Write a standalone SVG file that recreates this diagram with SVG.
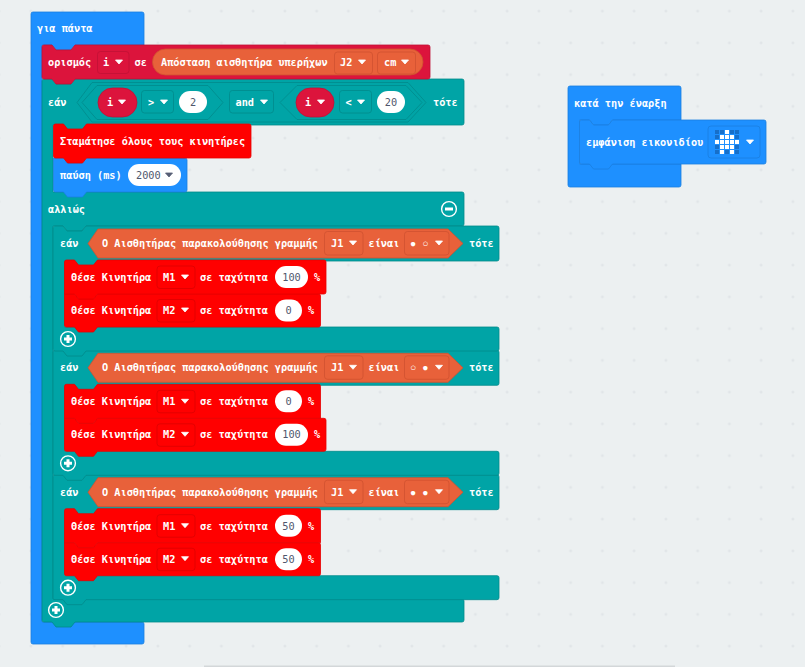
<svg xmlns="http://www.w3.org/2000/svg" xmlns:xlink="http://www.w3.org/1999/xlink" width="805" height="667" viewBox="0 0 805 667">
<style>
text{font-family:"DejaVu Sans Mono","Liberation Mono",monospace;font-size:10.25px;font-weight:700;fill:#fff}
.n{fill:#4f566c;font-weight:400;text-anchor:middle}
.sym{font-family:"Liberation Mono","DejaVu Sans Mono",monospace}
.blue{fill:#1e90ff;stroke:#1a7fe0;stroke-width:.8}
.teal{fill:#00a4a6;stroke:#008a8c;stroke-width:.8}
.crim{fill:#dc143c;stroke:#c01035;stroke-width:.8}
.red{fill:#ff0000;stroke:#e60000;stroke-width:.8}
.or{fill:#e8613a;stroke:#cf5230;stroke-width:.8}
.pill{fill:#fff}
.ddT{fill:#00a4a6;stroke:#008a8c;stroke-width:.8}
.ddC{fill:#dc143c;stroke:#c01035;stroke-width:.8}
.ddR{fill:#ff0000;stroke:#dc0000;stroke-width:.8}
.ddO{fill:#e8613a;stroke:#cf5230;stroke-width:.8}
.ddB{fill:#1e90ff;stroke:#1a7fe0;stroke-width:.8}
.car{fill:#fff;stroke:#fff;stroke-width:.8;stroke-linejoin:round}
.car2{fill:#575e75;stroke:#575e75;stroke-width:.8;stroke-linejoin:round}
.ring{fill:none;stroke:#fff;stroke-width:1.4}
.dot{fill:#fff}
.off{fill:#176fc9}
</style>
<defs>
<pattern id="grid" x="0" y="0" width="31.75" height="31.75" patternUnits="userSpaceOnUse" patternTransform="translate(142,27)">
<path d="M14.4,15.9h3M15.9,14.4v3" stroke="#dde2e5" stroke-width="1" fill="none"/>
</pattern>
<path id="c" d="M-3.500,-2h7l-3.500,4z"/>
<g id="plus"><circle r="7.400" class="ring"/><path d="M-4,0h8M0,-4v8" stroke="#fff" stroke-width="3"/></g>
<path id="ifFrame" d="M53,228q0-2 2-2H63l4,5h15l4-5H497q2,0 2,2V259q0,2-2,2H97.500l-4,5h-15l-4-5H64.500V327H497q2,0 2,2V349q0,2-2,2H86l-4,5H67l-4-5H55q-2,0-2-2z"/>
<path id="hex" d="M98,229H448L463,243.500 448,258H98L88,243.500z"/>
</defs>
<rect width="805" height="667" fill="#ecf0f1"/>
<rect width="805" height="667" fill="url(#grid)"/>
<rect x="204" y="665.500" width="471" height="1.500" fill="#d3d7d9"/>

<g id="forever">
<path class="blue" d="M31,14q0-2 2-2H142q2,0 2,2V45H75l-4,5H56l-4-5H42V622H142q2,0 2,2V642q0,2-2,2H33q-2,0-2-2z"/>
<text x="37" y="32">για πάντα</text>
</g>

<g id="if-else">
<path class="teal" d="M42,81q0-2 2-2H52l4,5h15l4-5H462q2,0 2,2V123q0,2-2,2H86.500l-4,5h-15l-4-5H53V192H462q2,0 2,2V224q0,2-2,2H86l-4,5H67l-4-5H53V599H462q2,0 2,2V620q0,2-2,2H75l-4,5H56l-4-5H44q-2,0-2-2z"/>
<text x="48" y="106">εάν</text>
<path d="M92,82.500H408L426,102.500 408,122H92L77,102.500z" fill="#00a4a6" stroke="#008a8c" stroke-width=".8"/>
<path d="M97,85.500H208L223,102.500 208,119.500H97L82,102.500z" fill="#00a4a6" stroke="#008a8c" stroke-width=".8"/>
<path d="M297,85.500H406L422,102.500 406,119.500H297L280,102.500z" fill="#00a4a6" stroke="#008a8c" stroke-width=".8"/>
<rect x="98" y="88" width="39" height="29" rx="14.500" class="crim"/>
<text x="107" y="106">i</text><use xlink:href="#c" class="car" x="122" y="102"/>
<rect x="141.500" y="90.500" width="32" height="22.500" rx="3" class="ddT"/>
<text x="148" y="106">&gt;</text><use xlink:href="#c" class="car" x="164" y="102"/>
<rect x="179" y="91" width="28" height="22" rx="11" class="pill"/>
<text x="193" y="106" class="n">2</text>
<rect x="229.500" y="90.500" width="44" height="22.500" rx="3" class="ddT"/>
<text x="235.500" y="106">and</text><use xlink:href="#c" class="car" x="264" y="102"/>
<rect x="296" y="88" width="38" height="29" rx="14.500" class="crim"/>
<text x="305" y="106">i</text><use xlink:href="#c" class="car" x="321" y="102"/>
<rect x="339.500" y="90.500" width="32" height="22.500" rx="3" class="ddT"/>
<text x="345.500" y="106">&lt;</text><use xlink:href="#c" class="car" x="361" y="102"/>
<rect x="377" y="91" width="28" height="22" rx="11" class="pill"/>
<text x="391" y="106" class="n">20</text>
<text x="433" y="106">τότε</text>
<text x="48" y="213">αλλιώς</text>
<g transform="translate(449,209)"><circle r="7.400" class="ring"/><path d="M-4,0h8" stroke="#fff" stroke-width="3"/></g>
<use xlink:href="#plus" x="56" y="610"/>
</g>

<g id="pause">
<path class="blue" d="M53.500,158H63.500l4,5h15l4-5H185q2,0 2,2V190q0,2-2,2H86.500l-4,5h-15l-4-5H55.500q-2,0-2-2z"/>
<text x="60" y="179">παύση (ms)</text>
<rect x="128" y="164" width="53" height="22" rx="11" class="pill"/>
<text x="136" y="179" style="fill:#4f566c;font-weight:400">2000</text><use xlink:href="#c" class="car2" x="169" y="175"/>
</g>
<g id="stop">
<path class="red" d="M53.500,126q0-2 2-2H63.500l4,5h15l4-5H249q2,0 2,2V156q0,2-2,2H86.500l-4,5h-15l-4-5H55.500q-2,0-2-2z"/>
<text x="60" y="145">Σταμάτησε όλους τους κινητήρες</text>
</g>

<g id="if3" transform="translate(0,248.700)">
<use xlink:href="#ifFrame" class="teal"/><use xlink:href="#hex" class="or"/>
<text x="60" y="247">εάν</text><text x="102" y="247">Ο Αισθητήρας παρακολούθησης γραμμής</text>
<rect x="324.500" y="231.500" width="38.500" height="23.500" rx="3" class="ddO"/><text x="331" y="247">J1</text><use xlink:href="#c" class="car" x="353" y="243"/>
<text x="368.500" y="247">είναι</text>
<rect x="404.500" y="231.500" width="44.500" height="23.500" rx="3" class="ddO"/><text x="410" y="247" class="sym">● ●</text><use xlink:href="#c" class="car" x="439" y="243"/>
<text x="469" y="247">τότε</text>
<use xlink:href="#plus" x="68" y="339"/>
</g>
<g id="motor3b" transform="translate(0,248.700)">
<path class="red" d="M64.500,294H74.500l4,5h15l4-5H318.500q2,0 2,2V325q0,2-2,2H97.500l-4,5h-15l-4-5H66.500q-2,0-2-2z"/>
<text x="71" y="314">Θέσε Κινητήρα</text><rect x="157" y="299.500" width="38" height="22.500" rx="3" class="ddR"/><text x="163" y="314">M2</text><use xlink:href="#c" class="car" x="185" y="310"/><text x="200" y="314">σε ταχύτητα</text>
<rect x="275" y="299.500" width="27" height="22" rx="11" class="pill"/><text x="288.500" y="314" class="n">50</text><text x="308" y="314">%</text>
</g>
<g id="motor3a" transform="translate(0,248.700)">
<path class="red" d="M64.500,262q0-2 2-2H74.500l4,5h15l4-5H318.500q2,0 2,2V294H97.500l-4,5h-15l-4-5H64.500z"/>
<text x="71" y="281">Θέσε Κινητήρα</text><rect x="157" y="266" width="38" height="22.500" rx="3" class="ddR"/><text x="163" y="281">M1</text><use xlink:href="#c" class="car" x="185" y="277"/><text x="200" y="281">σε ταχύτητα</text>
<rect x="275" y="266" width="27" height="22" rx="11" class="pill"/><text x="288.500" y="281" class="n">50</text><text x="308" y="281">%</text>
</g>

<g id="if2" transform="translate(0,124.300)">
<use xlink:href="#ifFrame" class="teal"/><use xlink:href="#hex" class="or"/>
<text x="60" y="247">εάν</text><text x="102" y="247">Ο Αισθητήρας παρακολούθησης γραμμής</text>
<rect x="324.500" y="231.500" width="38.500" height="23.500" rx="3" class="ddO"/><text x="331" y="247">J1</text><use xlink:href="#c" class="car" x="353" y="243"/>
<text x="368.500" y="247">είναι</text>
<rect x="404.500" y="231.500" width="44.500" height="23.500" rx="3" class="ddO"/><text x="410" y="247" class="sym">○ ●</text><use xlink:href="#c" class="car" x="439" y="243"/>
<text x="469" y="247">τότε</text>
<use xlink:href="#plus" x="68" y="339"/>
</g>
<g id="motor2b" transform="translate(0,124.300)">
<path class="red" d="M64.500,294H74.500l4,5h15l4-5H324q2,0 2,2V325q0,2-2,2H97.500l-4,5h-15l-4-5H66.500q-2,0-2-2z"/>
<text x="71" y="314">Θέσε Κινητήρα</text><rect x="157" y="299.500" width="38" height="22.500" rx="3" class="ddR"/><text x="163" y="314">M2</text><use xlink:href="#c" class="car" x="185" y="310"/><text x="200" y="314">σε ταχύτητα</text>
<rect x="275" y="299.500" width="33" height="22" rx="11" class="pill"/><text x="291.500" y="314" class="n">100</text><text x="314" y="314">%</text>
</g>
<g id="motor2a" transform="translate(0,124.300)">
<path class="red" d="M64.500,262q0-2 2-2H74.500l4,5h15l4-5H318.500q2,0 2,2V294H97.500l-4,5h-15l-4-5H64.500z"/>
<text x="71" y="281">Θέσε Κινητήρα</text><rect x="157" y="266" width="38" height="22.500" rx="3" class="ddR"/><text x="163" y="281">M1</text><use xlink:href="#c" class="car" x="185" y="277"/><text x="200" y="281">σε ταχύτητα</text>
<rect x="275" y="266" width="27" height="22" rx="11" class="pill"/><text x="288.500" y="281" class="n">0</text><text x="308" y="281">%</text>
</g>

<g id="if1">
<use xlink:href="#ifFrame" class="teal"/><use xlink:href="#hex" class="or"/>
<text x="60" y="247">εάν</text><text x="102" y="247">Ο Αισθητήρας παρακολούθησης γραμμής</text>
<rect x="324.500" y="231.500" width="38.500" height="23.500" rx="3" class="ddO"/><text x="331" y="247">J1</text><use xlink:href="#c" class="car" x="353" y="243"/>
<text x="368.500" y="247">είναι</text>
<rect x="404.500" y="231.500" width="44.500" height="23.500" rx="3" class="ddO"/><text x="410" y="247" class="sym">● ○</text><use xlink:href="#c" class="car" x="439" y="243"/>
<text x="469" y="247">τότε</text>
<use xlink:href="#plus" x="68" y="339"/>
</g>
<g id="motor1b">
<path class="red" d="M64.500,294H74.500l4,5h15l4-5H318.500q2,0 2,2V325q0,2-2,2H97.500l-4,5h-15l-4-5H66.500q-2,0-2-2z"/>
<text x="71" y="314">Θέσε Κινητήρα</text><rect x="157" y="299.500" width="38" height="22.500" rx="3" class="ddR"/><text x="163" y="314">M2</text><use xlink:href="#c" class="car" x="185" y="310"/><text x="200" y="314">σε ταχύτητα</text>
<rect x="275" y="299.500" width="27" height="22" rx="11" class="pill"/><text x="288.500" y="314" class="n">0</text><text x="308" y="314">%</text>
</g>
<g id="motor1a">
<path class="red" d="M64.500,262q0-2 2-2H74.500l4,5h15l4-5H324q2,0 2,2V292q0,2-2,2H97.500l-4,5h-15l-4-5H64.500z"/>
<text x="71" y="281">Θέσε Κινητήρα</text><rect x="157" y="266" width="38" height="22.500" rx="3" class="ddR"/><text x="163" y="281">M1</text><use xlink:href="#c" class="car" x="185" y="277"/><text x="200" y="281">σε ταχύτητα</text>
<rect x="275" y="266" width="33" height="22" rx="11" class="pill"/><text x="291.500" y="281" class="n">100</text><text x="314" y="281">%</text>
</g>

<g id="set">
<path class="crim" d="M42,47q0-2 2-2H52l4,5h15l4-5H428q2,0 2,2V77q0,2-2,2H75l-4,5H56l-4-5H44q-2,0-2-2z"/>
<text x="48" y="66">ορισμός</text>
<rect x="97.500" y="51.500" width="31.500" height="22" rx="3" class="ddC"/><text x="103" y="66">i</text><use xlink:href="#c" class="car" x="119" y="62"/>
<text x="134.500" y="66">σε</text>
<rect x="152.500" y="49" width="270.500" height="26" rx="13" class="or"/>
<text x="161" y="66">Απόσταση αισθητήρα υπερήχων</text>
<rect x="334.500" y="52" width="38" height="22" rx="3" class="ddO"/><text x="340" y="66">J2</text><use xlink:href="#c" class="car" x="362" y="62"/>
<rect x="377.500" y="52" width="38" height="22" rx="3" class="ddO"/><text x="384" y="66">cm</text><use xlink:href="#c" class="car" x="405" y="62"/>
</g>

<g id="on-start">
<path class="blue" d="M568,88q0-2 2-2H679q2,0 2,2V120H612.500l-4,5h-15l-4-5H579.500V164H681V185q0,2-2,2H570q-2,0-2-2z"/>
<text x="574" y="107">κατά την έναρξη</text>
<path class="blue" d="M579.500,122q0-2 2-2H589.500l4,5h15l4-5H764q2,0 2,2V162q0,2-2,2H612.500l-4,5h-15l-4-5H581.500q-2,0-2-2z"/>
<text x="586" y="146">εμφάνιση εικονιδίου</text>
<rect x="708" y="126" width="52" height="32" rx="3" class="ddB"/>
<g class="off"><rect x="715" y="130" width="4" height="4"/><rect x="720" y="130" width="4" height="4"/><rect x="730" y="130" width="4" height="4"/><rect x="735" y="130" width="4" height="4"/><rect x="715" y="135" width="4" height="4"/><rect x="735" y="135" width="4" height="4"/><rect x="715" y="145" width="4" height="4"/><rect x="735" y="145" width="4" height="4"/><rect x="715" y="150" width="4" height="4"/><rect x="725" y="150" width="4" height="4"/><rect x="735" y="150" width="4" height="4"/></g>
<g class="dot"><rect x="725" y="130" width="4" height="4"/><rect x="720" y="135" width="4" height="4"/><rect x="725" y="135" width="4" height="4"/><rect x="730" y="135" width="4" height="4"/><rect x="715" y="140" width="4" height="4"/><rect x="720" y="140" width="4" height="4"/><rect x="725" y="140" width="4" height="4"/><rect x="730" y="140" width="4" height="4"/><rect x="735" y="140" width="4" height="4"/><rect x="720" y="145" width="4" height="4"/><rect x="725" y="145" width="4" height="4"/><rect x="730" y="145" width="4" height="4"/><rect x="720" y="150" width="4" height="4"/><rect x="730" y="150" width="4" height="4"/></g>
<use xlink:href="#c" class="car" x="750" y="142"/>
</g>
</svg>
